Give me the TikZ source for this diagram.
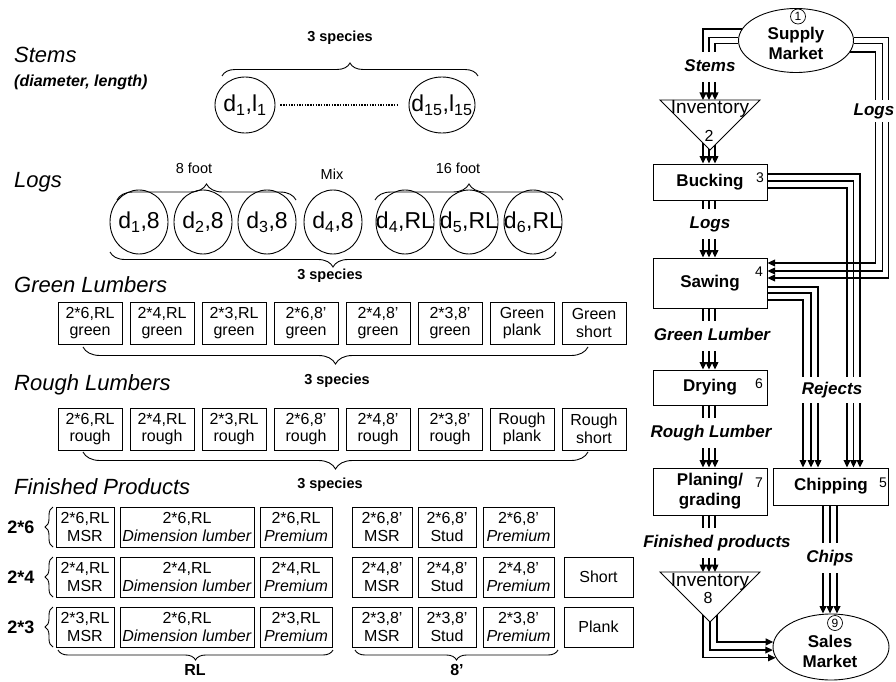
\documentclass[tikz,border=0pt]{standalone}
\usepackage{fontspec}
\setmainfont{Liberation Sans}
\usetikzlibrary{arrows.meta,decorations.pathreplacing,calc,shapes.geometric}
\newcommand{\myfs}[1]{\fontsize{#1}{#1}\selectfont}
\newcommand{\zerobox}[1]{\makebox[0pt]{#1}}
\begin{document}
\begin{tikzpicture}[x=1pt,y=-1pt,
  title/.style={anchor=west,inner sep=0pt,font=\myfs{22}\itshape},
  subt/.style={anchor=west,inner sep=0pt,font=\myfs{16}\bfseries\itshape},
  spc/.style={inner sep=0pt,font=\myfs{14.5}\bfseries},
  lenl/.style={inner sep=0pt,font=\myfs{14.5}},
  logc/.style={draw,line width=0.9pt,ellipse,minimum width=58pt,minimum height=64pt,inner sep=0pt,font=\myfs{23}},
  stemc/.style={draw,line width=0.9pt,ellipse,minimum width=60pt,minimum height=56pt,inner sep=0pt,font=\myfs{23}},
  lb/.style={draw,line width=1pt,minimum width=64pt,minimum height=42pt,inner sep=0pt,align=center,font=\fontsize{16}{17.5}\selectfont},
  fp/.style={lb,minimum height=40pt,minimum width=#1},
  rowl/.style={inner sep=0pt,font=\myfs{18}\bfseries},
  brc/.style={decorate,decoration={brace,amplitude=#1},line width=0.9pt},
  fb/.style={draw,line width=1pt,minimum width=114pt,inner sep=0pt,align=center,font=\fontsize{17}{20}\selectfont\bfseries},
  fbt/.style={inner sep=0pt,align=center,font=\fontsize{17}{20}\selectfont\bfseries},
  num/.style={inner sep=0pt,font=\myfs{14}},
  cnum/.style={draw,circle,line width=0.7pt,minimum size=15pt,inner sep=0pt,font=\myfs{12}},
  invt/.style={inner sep=0pt,font=\myfs{19}},
  flab/.style={fill=white,inner xsep=2pt,inner ysep=7pt,text height=12.5pt,text depth=3.5pt,font=\myfs{17}\bfseries\itshape},
  arr/.style={line width=1.3pt,-{Triangle[length=7.5pt,width=6.8pt]}},
]
\useasboundingbox (0,0) rectangle (896,682);

% ---------------- left: stems ----------------
\node[title] (tstems) at (14,55) {Stems};
\node[subt] (tdl) at (14,82) {(diameter, length)};
\node[spc] (sp0) at (340,38) {3 species};
\draw[brc=13pt] (222,76) -- (478,76);
\node[stemc] (s1) at (245,105) {\zerobox{d\textsubscript{1},l\textsubscript{1}}};
\node[stemc,minimum width=66pt] (s15) at (442,105) {\zerobox{d\textsubscript{15},l\textsubscript{15}}};
\draw[line width=1.6pt,dash pattern=on 1.4pt off 1.3pt] ($(s1.east)+(5,0)$) -- ($(s15.west)+(-10,0)$);

% ---------------- logs ----------------
\node[title] (tlogs) at (14,182) {Logs};
\node[lenl] (l8) at (194,168) {8 foot};
\node[lenl] (lmix) at (332,174) {Mix};
\node[lenl] (l16) at (458,168) {16 foot};
\draw[brc=16pt] (117,200) -- (296,200);
\draw[brc=16pt] (375,200) -- (563,200);
\node[logc] (lg1) at (139,222) {\zerobox{d\textsubscript{1},8}};
\node[logc] (lg2) at (203,222) {\zerobox{d\textsubscript{2},8}};
\node[logc] (lg3) at (267,222) {\zerobox{d\textsubscript{3},8}};
\node[logc] (lg4) at (333,222) {\zerobox{d\textsubscript{4},8}};
\node[logc] (lg5) at (405,222) {\zerobox{d\textsubscript{4},RL}};
\node[logc] (lg6) at (469,222) {\zerobox{d\textsubscript{5},RL}};
\node[logc] (lg7) at (533,222) {\zerobox{d\textsubscript{6},RL}};
\draw[brc=15pt] (556,252) -- (110,252);
\node[spc] (sp1) at (330,276) {3 species};

% ---------------- green lumbers ----------------
\node[title] (tgreen) at (14,285) {Green Lumbers};
\foreach \t [count=\i from 0] in {{2*6,RL\\green},{2*4,RL\\green},{2*3,RL\\green},{2*6,8'\\green},{2*4,8'\\green},{2*3,8'\\green},{Green\\plank},{Green\\short}}
  \node[lb] (g\i) at ({90+72*\i},323) {\t};
\draw[brc=17pt] (588,347) -- (83,347);
\node[spc] (sp2) at (337,381) {3 species};

% ---------------- rough lumbers ----------------
\node[title] (trough) at (14,385) {Rough Lumbers};
\foreach \t [count=\i from 0] in {{2*6,RL\\rough},{2*4,RL\\rough},{2*3,RL\\rough},{2*6,8'\\rough},{2*4,8'\\rough},{2*3,8'\\rough},{Rough\\plank},{Rough\\short}}
  \node[lb] (r\i) at ({90+72*\i},429) {\t};
\draw[brc=17pt] (588,452) -- (83,452);
\node[spc] (sp3) at (330,485) {3 species};

% ---------------- finished products ----------------
\node[title] (tfin) at (14,487) {Finished Products};
\foreach \r/\y/\n/\m in {a/527/6/6,b/577/4/4,c/627/3/6}{
  \node[fp=58pt] (f\r1) at (85,\y) {2*\n,RL\\MSR};
  \node[fp=134pt] (f\r2) at (187,\y) {2*\m,RL\\\textit{Dimension lumber}};
  \node[fp=72pt] (f\r3) at (296,\y) {2*\n,RL\\\textit{Premium}};
  \node[fp=60pt] (f\r4) at (382,\y) {2*\n,8'\\MSR};
  \node[fp=58pt] (f\r5) at (447,\y) {2*\n,8'\\Stud};
  \node[fp=71pt] (f\r6) at (518.5,\y) {2*\n,8'\\\textit{Premium}};
  \node[rowl] (row\r) at (21,\y) {2*\n};
  \draw[brc=8pt] (53,{\y+20}) -- (53,{\y-20});
}
\node[fp=69pt] (fshort) at (598.5,577) {Short};
\node[fp=69pt] (fplank) at (598.5,627) {Plank};
\draw[brc=10pt] (333,650) -- (58,650);
\draw[brc=10pt] (558,650) -- (355,650);
\node[rowl,font=\myfs{16}\bfseries] (lrl) at (195,670) {RL};
\node[rowl,font=\myfs{16}\bfseries] (l8f) at (457,670) {8'};

% ---------------- flowchart nodes ----------------
\node[draw,ellipse,line width=0.9pt,minimum width=115pt,minimum height=64pt,inner sep=0pt] (sm) at (796,40.5) {};
\node[fbt] (smt) at (796,43) {Supply\\Market};
\node[cnum] (c1) at (798,16.5) {1};

\coordinate (i2a) at (660,100);
\coordinate (i2b) at (760,100);
\coordinate (i2c) at (710,150);
\draw[line width=0.9pt] (i2a) -- (i2b) -- (i2c) -- cycle;
\node[invt] (i2t) at (710,109) {Inventory};
\node[num,font=\myfs{16}] (n2) at (709,136) {2};

\node[fb,minimum height=36pt] (buck) at (710,182) {Bucking};
\node[fb,minimum height=50pt] (saw) at (710,283) {Sawing};
\node[fb,minimum height=35pt] (dry) at (710,387.5) {Drying};
\node[fb,minimum height=47pt] (plan) at (710,491.5) {Planing/\\grading};
\node[fb,minimum width=115pt,minimum height=37pt] (chip) at (831,486.5) {Chipping};
\node[num] (n3) at (760,178) {3};
\node[num] (n4) at (759,272) {4};
\node[num] (n6) at (759,384) {6};
\node[num] (n7) at (759,483) {7};
\node[num] (n5) at (883,483) {5};

\coordinate (i8a) at (660,572);
\coordinate (i8b) at (760,572);
\coordinate (i8c) at (710,622);
\draw[line width=0.9pt] (i8a) -- (i8b) -- (i8c) -- cycle;
\node[invt] (i8t) at (710,582) {Inventory};
\node[num,font=\myfs{16}] (n8) at (708,598) {8};

\node[draw,ellipse,line width=0.9pt,minimum width=116pt,minimum height=66pt,inner sep=0pt] (sales) at (831,647) {};
\node[fbt] (salest) at (830,651) {Sales\\Market};
\node[cnum] (c9) at (835,623) {9};

% ---------------- flowchart connectors ----------------
\draw[arr] (sm.168) -| ($(i2a)+(43,0)$);
\draw[arr] (sm.177) -| ($(i2a)+(49,0)$);
\draw[arr] (sm.183) -| ($(i2a)+(55,0)$);
\draw[arr] ($(i2c)+(-7,-7)$) -- ($(buck.north)+(-7,0)$);
\draw[arr] ($(i2c)+(-1,-1)$) -- ($(buck.north)+(-1,0)$);
\draw[arr] ($(i2c)+(5,-5)$) -- ($(buck.north)+(5,0)$);
\foreach \d in {-7,-1,5} {
  \draw[arr] ($(buck.south)+(\d,0)$) -- ($(saw.north)+(\d,0)$);
  \draw[arr] ($(saw.south)+(\d,0)$) -- ($(dry.north)+(\d,0)$);
  \draw[arr] ($(dry.south)+(\d,0)$) -- ($(plan.north)+(\d,0)$);
  \draw[arr] ($(plan.south)+(\d,0)$) -- ($(i8a)+({50+\d},0)$);
}
\draw[arr] ($(i8c)+(-7,-7)$) |- (sales.191);
\draw[arr] (i8c) |- (sales.183);
\draw[arr] ($(i8c)+(7,-7)$) |- (sales.175);

\draw[arr] (sm.3) -| ($(saw.east)+(121,-5)$) -- ($(saw.east)+(0,-5)$);
\draw[arr] (sm.357) -| ($(saw.east)+(115,-12)$) -- ($(saw.east)+(0,-12)$);
\draw[arr] (sm.348) -| ($(saw.east)+(108,-20)$) -- ($(saw.east)+(0,-20)$);

\draw[arr] ($(buck.east)+(0,-8)$) -| ($(chip.north)+(29,0)$);
\draw[arr] ($(buck.east)+(0,-1)$) -| ($(chip.north)+(22.5,0)$);
\draw[arr] ($(buck.east)+(0,6)$) -| ($(chip.north)+(16,0)$);
\draw[arr] ($(saw.east)+(0,4)$) -| ($(chip.north)+(-13,0)$);
\draw[arr] ($(saw.east)+(0,10)$) -| ($(chip.north)+(-20,0)$);
\draw[arr] ($(saw.east)+(0,17)$) -| ($(chip.north)+(-28,0)$);
\foreach \d in {-8,-1,6}
  \draw[arr] ($(chip.south)+(\d,0)$) -- ($(sales.north)+(\d,0)$);

% ---------------- flow labels ----------------
\node[flab] (lstems) at (710,67.5) {Stems};
\node[flab] (llogs) at (710,224) {Logs};
\node[flab,inner ysep=3pt] (llogs2) at (874,111) {Logs};
\node[flab] (lgreen) at (712,336) {Green Lumber};
\node[flab,inner ysep=5pt] (lrej) at (832,390) {Rejects};
\node[flab] (lrough) at (711,432.5) {Rough Lumber};
\node[flab] (lfin) at (717,543) {Finished products};
\node[flab] (lchips) at (830,557.5) {Chips};
\end{tikzpicture}
\end{document}
